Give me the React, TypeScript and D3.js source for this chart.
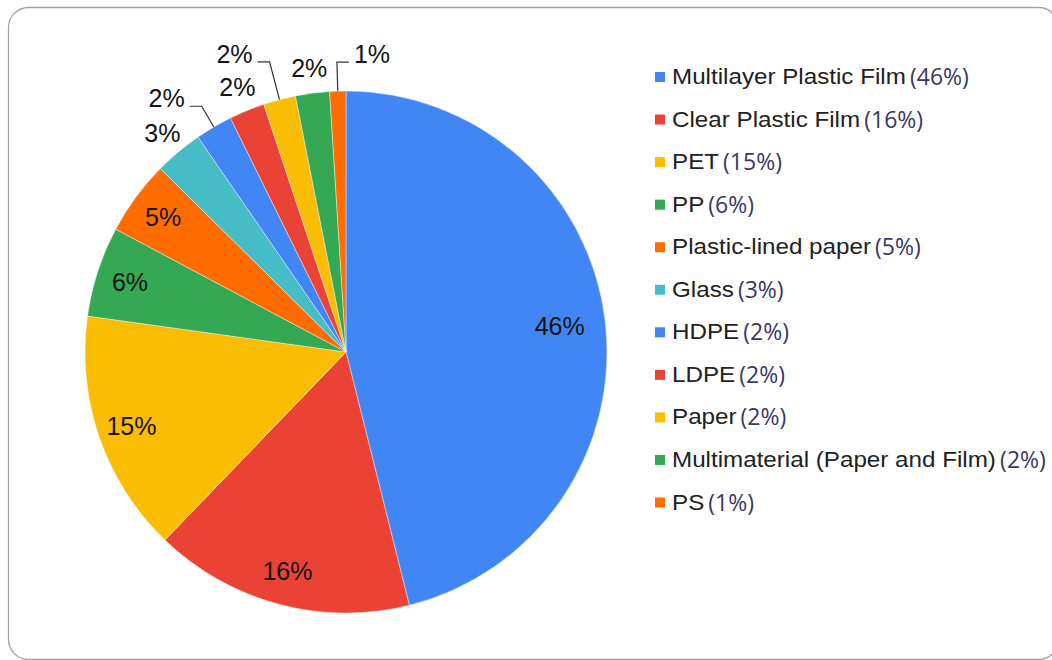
import React from "react";
import * as d3 from "d3";

const categories = [
  "Multilayer Plastic Film",
  "Clear Plastic Film",
  "PET",
  "PP",
  "Plastic-lined paper",
  "Glass",
  "HDPE",
  "LDPE",
  "Paper",
  "Multimaterial (Paper and Film)",
  "PS",
];
const values = [46.1, 16.1, 15.0, 5.6, 4.6, 3.0, 2.3, 2.2, 2.0, 2.1, 1.0];
const colors = [
  "#4285F4", "#EA4335", "#FBBC04", "#34A853", "#FF6D01", "#46BDC6",
  "#4285F4", "#EA4335", "#FBBC04", "#34A853", "#FF6D01",
];
// label placement: inside, outside (no leader), or leader line
const placement = ["in", "in", "in", "in", "in", "out", "leader", "out", "leader", "out", "leader"];
const leaderRadius = [0, 0, 0, 0, 0, 0, 285, 0, 300, 0, 290];
const leaderSide = [0, 0, 0, 0, 0, 0, -1, 0, -1, 0, 1];

const W = 1052;
const H = 660;
const CX = 346;
const CY = 352;
const R = 261;
const SX = 1.1; // horizontal stretch of legend names
const LABEL_FONT = "'Liberation Sans', Arial, sans-serif";

export default function App() {
  const total = d3.sum(values);
  const pct = values.map((v) => Math.round((v / total) * 100));
  const pie = d3
    .pie<number>()
    .sort(null)
    .value((d) => d)
    .startAngle(0)
    .endAngle(2 * Math.PI);
  const arcs = pie(values);
  const arc = d3.arc<d3.PieArcDatum<number>>().innerRadius(0).outerRadius(R);
  const polar = (a: number, r: number): [number, number] => [
    CX + r * Math.sin(a),
    CY - r * Math.cos(a),
  ];

  const legendY = d3.scaleLinear().domain([0, categories.length - 1]).range([84, 509.5]);

  const label = (x: number, y: number, txt: string, anchor: string, key: string) => (
    <text
      key={key}
      x={x}
      y={y}
      textAnchor={anchor}
      fontFamily={LABEL_FONT}
      fontSize={25}
      fill="#141414"
    >
      {txt}
    </text>
  );

  return (
    <svg
      width={W}
      height={H}
      style={{ position: "absolute", left: 0, top: 0, background: "#fff" }}
    >
      <rect x={8.5} y={7.5} width={1050} height={652} rx={20} ry={20} fill="#fff" stroke="#a3a3a3" strokeWidth={1.3} />
      <g>
        {arcs.map((a, i) => (
          <path
            key={"s" + i}
            d={arc(a) || ""}
            transform={`translate(${CX},${CY})`}
            fill={colors[i]}
            stroke="#fff"
            strokeWidth={0.4}
          />
        ))}
      </g>
      <g>
        {arcs.map((a, i) => {
          const mid = (a.startAngle + a.endAngle) / 2;
          const txt = pct[i] + "%";
          if (placement[i] === "in") {
            const r = pct[i] > 30 ? 0.825 * R : 0.87 * R;
            const [x, y] = polar(mid, r);
            return label(x, y + 9, txt, "middle", "l" + i);
          }
          if (placement[i] === "out") {
            const [x, y] = polar(mid, 286);
            return label(x, y + 9, txt, "middle", "l" + i);
          }
          const [x0, y0] = polar(mid, R);
          const [x1, y1] = polar(mid, leaderRadius[i]);
          const side = leaderSide[i];
          const x2 = x1 + side * 12;
          return (
            <g key={"l" + i}>
              <polyline
                points={`${x0},${y0} ${x1},${y1} ${x2},${y1}`}
                fill="none"
                stroke="#333"
                strokeWidth={1.2}
              />
              {label(x2 + side * 5, y1 + 1, txt, side < 0 ? "end" : "start", "t" + i)}
            </g>
          );
        })}
      </g>
      <g>
        {categories.map((c, i) => {
          const by = legendY(i);
          return (
            <g key={"g" + i}>
              <rect x={655} y={by - 12} width={10} height={10} fill={colors[i]} />
              <text
                transform={`translate(672,${by}) scale(${SX},1)`}
                fontFamily={LABEL_FONT}
                fontSize={22}
                fill="#222"
              >
                {c}
              </text>
              <LegendSuffix name={c} by={by} txt={`(${pct[i]}%)`} />
            </g>
          );
        })}
      </g>
    </svg>
  );
}

function LegendSuffix({ name, by, txt }: { name: string; by: number; txt: string }) {
  const ref = React.useRef<SVGTextElement>(null);
  const [x, setX] = React.useState(672);
  React.useLayoutEffect(() => {
    const svg = ref.current?.ownerSVGElement;
    if (!svg) return;
    const t = document.createElementNS("http://www.w3.org/2000/svg", "text");
    t.setAttribute("font-family", LABEL_FONT);
    t.setAttribute("font-size", "22");
    t.textContent = name;
    svg.appendChild(t);
    const w = t.getComputedTextLength();
    svg.removeChild(t);
    setX(672 + w * SX + 4);
  }, [name]);
  return (
    <text
      ref={ref}
      x={x}
      y={by + 1}
      fontFamily="'Open Sans', sans-serif"
      fontSize={23}
      fill="#3b3763"
    >
      {txt}
    </text>
  );
}
